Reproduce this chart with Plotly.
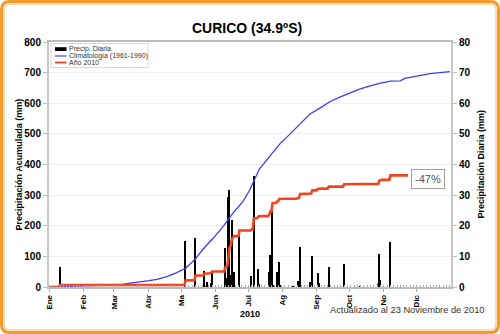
import numpy as np
import pandas as pd
import plotly.graph_objects as go

# --- Daily precipitation observed in Curicó during 2010 (mm) ---
rain_dates = [
    "2010-01-11", "2010-05-05", "2010-05-14", "2010-05-22", "2010-05-25",
    "2010-05-28", "2010-05-29", "2010-06-10", "2010-06-11", "2010-06-12",
    "2010-06-13", "2010-06-14", "2010-06-15", "2010-06-16", "2010-06-17",
    "2010-06-18", "2010-06-23", "2010-07-04", "2010-07-06", "2010-07-10",
    "2010-07-11", "2010-07-20", "2010-07-21", "2010-07-23", "2010-07-24",
    "2010-07-27", "2010-07-29", "2010-07-30", "2010-08-11", "2010-08-12",
    "2010-08-15", "2010-08-17", "2010-08-26", "2010-08-28", "2010-09-02",
    "2010-09-03", "2010-09-12", "2010-09-26", "2010-10-11", "2010-10-27",
    "2010-10-28", "2010-10-29", "2010-11-07",
]
rain_mm = [
    6.6, 15.0, 16.1, 5.3, 1.7,
    1.3, 4.8, 12.6, 3.0, 2.5,
    29.5, 31.6, 4.0, 22.0, 5.0,
    5.0, 18.5, 3.6, 36.3, 6.0,
    1.0, 4.9, 10.5, 27.0, 0.7,
    4.8, 8.2, 0.6, 0.3, 0.3,
    2.0, 13.0, 1.7, 10.1, 4.5,
    1.2, 6.6, 7.5, 0.3, 1.0,
    10.8, 2.3, 14.8,
]

# --- Climatological accumulated precipitation 1961-1990 (mm) ---
clim_dates = [
    "2010-01-01", "2010-01-12", "2010-02-01", "2010-03-01", "2010-03-08",
    "2010-03-14", "2010-03-19", "2010-03-26", "2010-04-02", "2010-04-09",
    "2010-04-18", "2010-04-27", "2010-05-05", "2010-05-13", "2010-05-21",
    "2010-05-30", "2010-06-08", "2010-06-17", "2010-06-26", "2010-07-02",
    "2010-07-11", "2010-07-17", "2010-07-25", "2010-07-30", "2010-08-08",
    "2010-08-17", "2010-08-26", "2010-09-04", "2010-09-13", "2010-09-22",
    "2010-10-01", "2010-10-10", "2010-10-19", "2010-10-28", "2010-11-07",
    "2010-11-16", "2010-11-20", "2010-11-27", "2010-12-04", "2010-12-13",
    "2010-12-22", "2010-12-31",
]
clim_mm = [
    0, 1, 3, 6, 8,
    12, 15, 18, 21, 25,
    34, 47, 61, 88, 124,
    159, 197, 241, 279, 315,
    385, 412, 445, 469, 500,
    533, 565, 584, 605, 620,
    634, 646, 656, 665, 672,
    673, 681, 686, 692, 697,
    700, 703,
]

month_starts = [f"2010-{m:02d}-01" for m in range(1, 13)]
month_labels = ["Ene", "Feb", "Mar", "Abr", "Ma", "Jun",
                "Jul", "Ag", "Sep", "Oct", "No", "Dic"]

last_update = "2010-11-23"

# Accumulated 2010 precipitation, day by day, up to the last update
days = pd.date_range("2010-01-01", last_update, freq="D")
daily = pd.Series(0.0, index=days)
daily.loc[pd.to_datetime(rain_dates)] = rain_mm
accum = daily.cumsum()

# Anomaly against the climatology on the update date
doy = lambda d: (pd.Timestamp(d) - pd.Timestamp("2010-01-01")).days
clim_now = np.interp(doy(last_update), [doy(d) for d in clim_dates], clim_mm)
anomaly = round((accum.iloc[-1] / clim_now - 1) * 100)

FONT = "Liberation Sans, Arial, sans-serif"
DAY_MS = 86400000

# Pixel helpers for decorations around the plot area (plot spans x 49-451, y 42-287)
L, R, T, B = 49, 451, 42, 287
def px(x):
    return (x - L) / (R - L)
def py(y):
    return (B - y) / (B - T)

fig = go.Figure()

fig.add_trace(go.Bar(
    x=rain_dates, y=rain_mm, name="Precip. Diaria",
    width=DAY_MS * 1.3, marker=dict(color="black", line=dict(width=0)),
    yaxis="y",
))
fig.add_trace(go.Scatter(
    x=clim_dates, y=clim_mm, name="Climatología (1961-1990)", mode="lines",
    line=dict(color="#3C3CF6", width=1.3), yaxis="y2",
))
fig.add_trace(go.Scatter(
    x=accum.index, y=accum.values, name="Año 2010", mode="lines",
    line=dict(color="#EE4520", width=2.6), yaxis="y2",
))


def rounded_rect(x0, y0, x1, y1, r):
    return (f"M {px(x0 + r)},{py(y0)} L {px(x1 - r)},{py(y0)} "
            f"Q {px(x1)},{py(y0)} {px(x1)},{py(y0 + r)} "
            f"L {px(x1)},{py(y1 - r)} Q {px(x1)},{py(y1)} {px(x1 - r)},{py(y1)} "
            f"L {px(x0 + r)},{py(y1)} Q {px(x0)},{py(y1)} {px(x0)},{py(y1 - r)} "
            f"L {px(x0)},{py(y0 + r)} Q {px(x0)},{py(y0)} {px(x0 + r)},{py(y0)} Z")


shapes = [
    # outer frame
    dict(type="path", xref="paper", yref="paper", path=rounded_rect(1.5, 1.5, 498.5, 332.5, 8),
         line=dict(color="#F39B2C", width=3)),
    dict(type="path", xref="paper", yref="paper", path=rounded_rect(4, 4, 496, 330, 6),
         line=dict(color="#FAD3A0", width=1.5)),
    # legend box
    dict(type="rect", xref="paper", yref="paper", x0=px(51), x1=px(148), y0=py(67.5), y1=py(43.5),
         fillcolor="white", line=dict(color="#D8D8D8", width=1)),
    dict(type="rect", xref="paper", yref="paper", x0=px(55), x1=px(66.5), y0=py(51), y1=py(47.2),
         fillcolor="black", line=dict(width=0)),
    dict(type="line", xref="paper", yref="paper", x0=px(55), x1=px(66.5), y0=py(56), y1=py(56),
         line=dict(color="#6F6FF8", width=1.6)),
    dict(type="line", xref="paper", yref="paper", x0=px(55), x1=px(66.5), y0=py(62.5), y1=py(62.5),
         line=dict(color="#EE4520", width=1.8)),
]

legend_text = ["Precip. Diaria", "Climatología (1961-1990)", "Año 2010"]
legend_y = [49.2, 56, 62.5]


def label(text, x, y, size, color="black", xanchor="center", angle=0, **kw):
    return dict(text=text, x=px(x), y=py(y), xref="paper", yref="paper",
                xanchor=xanchor, yanchor="middle", textangle=angle, showarrow=False,
                font=dict(family=FONT, size=size, color=color), **kw)


annotations = [
    label("<b>CURICO (34.9ºS)</b>", 247, 28, 14),
    label("<b>Precipitación Acumulada (mm)</b>", 18, 164.5, 9, angle=-90),
    label("<b>Precipitación Diaria (mm)</b>", 480, 164.5, 9, angle=-90),
    label("<b>2010</b>", 250, 314, 9),
    label("Actualizado al 23 Noviembre de 2010", 487, 310, 9.3, color="#333333", xanchor="right"),
    label(f"{anomaly}%", 428, 179, 11, color="#555555",
          bgcolor="white", bordercolor="#A0A0A0", borderwidth=1, borderpad=3),
]
for t, yy in zip(legend_text, legend_y):
    annotations.append(label(t, 67, yy, 7, color="#333333", xanchor="left"))

fig.update_layout(
    width=500, height=334, autosize=False,
    margin=dict(l=L, r=500 - R, t=T, b=334 - B, pad=0),
    paper_bgcolor="white", plot_bgcolor="white",
    showlegend=False, bargap=0,
    font=dict(family=FONT, color="black"),
    xaxis=dict(
        type="date", range=["2010-01-01", "2011-01-01"],
        tickvals=month_starts, ticktext=month_labels, tickangle=-90,
        tickfont=dict(family=FONT, size=8, weight="bold"),
        ticks="outside", ticklen=3, tickcolor="#AAAAAA",
        minor=dict(ticks="inside", ticklen=2, dtick=DAY_MS * 3, tickcolor="#AAAAAA"),
        showline=True, linecolor="#BBBBBB", linewidth=1.5, mirror=True,
        showgrid=False, zeroline=False,
    ),
    yaxis=dict(
        side="right", range=[0, 80], dtick=10,
        tickfont=dict(family=FONT, size=10, weight="bold"),
        ticks="outside", ticklen=4, tickcolor="#BBBBBB",
        showline=True, linecolor="#C8C8C8", linewidth=2,
        showgrid=True, gridcolor="#F0F0F0", zeroline=False,
    ),
    yaxis2=dict(
        overlaying="y", side="left", range=[0, 800], dtick=100,
        tickfont=dict(family=FONT, size=10, weight="bold"),
        ticks="outside", ticklen=4, tickcolor="#BBBBBB",
        showline=True, linecolor="#C8C8C8", linewidth=2,
        showgrid=False, zeroline=False,
    ),
    shapes=shapes,
    annotations=annotations,
)

fig.write_html("out.html")
